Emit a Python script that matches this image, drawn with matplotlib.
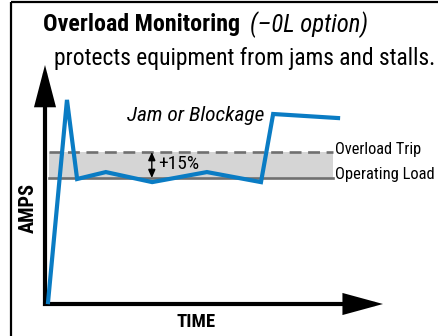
import matplotlib
matplotlib.use("Agg")
import matplotlib.pyplot as plt
from matplotlib import font_manager as fm

# ---- data (time units 0-100, amps units 0-100) ----
time = [0.9, 6.5, 9.5, 18.0, 31.7, 47.9, 63.9, 67.5, 86.7]
amps = [0.8, 85.4, 52.3, 55.2, 51.0, 55.2, 51.0, 79.5, 77.8]
operating_load = 52.7
overload_trip = 63.6
band_start, band_end = 1.2, 85.2
arrow_t = 31.6
title = "Overload Monitoring"
title_opt = "(–0L option)"
subtitle = "protects equipment from jams and stalls."
labels = {"trip": "Overload Trip", "op": "Operating Load", "pct": "+15%",
          "jam": "Jam or Blockage", "x": "TIME", "y": "AMPS"}

names = {f.name for f in fm.fontManager.ttflist}
prefs = ["Roboto Condensed", "Fira Sans Condensed", "PT Sans Narrow", "Archivo Narrow",
         "Asap Condensed", "IBM Plex Sans Condensed", "Open Sans Condensed", "DejaVu Sans"]
FONT = next(p for p in prefs if p in names or p == "DejaVu Sans")
plt.rcParams["font.family"] = [FONT, "DejaVu Sans"]

W, H = 439, 336
fig = plt.figure(figsize=(W / 100, H / 100), dpi=100)

ov = fig.add_axes([0, 0, 1, 1])
ov.set_xlim(0, W)
ov.set_ylim(H, 0)
ov.axis("off")
ov.plot([11, 11], [2, H], color="black", lw=1.6, solid_capstyle="butt")
ov.plot([11, W], [2, 2], color="black", lw=1.6, solid_capstyle="butt")

fits = []
fits.append((ov.text(43, 25, title, fontsize=14, fontweight="semibold", va="center", ha="left"), 197, 0))
fits.append((ov.text(250, 25, title_opt, fontsize=14, style="italic", va="center", ha="left"), 118, 0))
fits.append((ov.text(54, 59, subtitle, fontsize=15, va="center", ha="left"), 381, 0))
fits.append((ov.text(28, 208, labels["y"], fontsize=11, fontweight="semibold", rotation=90, va="center", ha="center"), 50, 1))
fits.append((ov.text(196, 322, labels["x"], fontsize=11, fontweight="semibold", va="center", ha="center"), 39, 0))

x0, y0, x1, y1 = 45, 304, 383, 65
ax = fig.add_axes([x0 / W, (H - y0) / H, (x1 - x0) / W, (y0 - y1) / H])
ax.set_xlim(0, 100)
ax.set_ylim(0, 100)
ax.axis("off")

ax.fill_between([band_start, band_end], operating_load, overload_trip, color="#d5d5d5", lw=0)
ax.plot([band_start, band_end], [overload_trip] * 2, color="#707070", lw=1.9, ls=(0, (4.5, 2.5)))
ax.plot([band_start, band_end], [operating_load] * 2, color="#707070", lw=1.9)
ax.annotate("", xy=(arrow_t, overload_trip), xytext=(arrow_t, operating_load),
            arrowprops=dict(arrowstyle="<|-|>,head_length=0.5,head_width=0.22", color="black", lw=1.0,
                            shrinkA=0, shrinkB=0, mutation_scale=10, joinstyle="miter"))
fits.append((ax.text(arrow_t + 1.8, (overload_trip + operating_load) / 2 + 0.5, labels["pct"], fontsize=11, va="center", ha="left"), 41, 0))
fits.append((ax.text(85.8, overload_trip + 1, labels["trip"], fontsize=11, va="center", ha="left"), 86, 0))
fits.append((ax.text(85.8, operating_load + 1.5, labels["op"], fontsize=11, va="center", ha="left"), 100, 0))
fits.append((ax.text(64.8, 79.0, labels["jam"], fontsize=12.5, style="italic", va="center", ha="right"), 137, 0))

ax.plot(time, amps, color="#0a7cc4", lw=3, solid_joinstyle="miter", clip_on=False, zorder=5)

ax.annotate("", xy=(0, 100), xytext=(0, -0.8),
            arrowprops=dict(arrowstyle="-|>,head_length=2.3,head_width=0.6", color="black", lw=3,
                            shrinkA=0, shrinkB=0, mutation_scale=10, joinstyle="miter", capstyle="butt"),
            annotation_clip=False)
ax.annotate("", xy=(100, 0), xytext=(-0.6, 0),
            arrowprops=dict(arrowstyle="-|>,head_length=2.2,head_width=0.6", color="black", lw=3,
                            shrinkA=0, shrinkB=0, mutation_scale=10, joinstyle="miter", capstyle="butt"),
            annotation_clip=False)

# fit text sizes to reference widths
for _ in range(3):
    fig.canvas.draw()
    r = fig.canvas.get_renderer()
    for t, target, vert in fits:
        bb = t.get_window_extent(r)
        cur = bb.height if vert else bb.width
        t.set_fontsize(t.get_fontsize() * target / cur)

fig.savefig("out.png", dpi=100)
